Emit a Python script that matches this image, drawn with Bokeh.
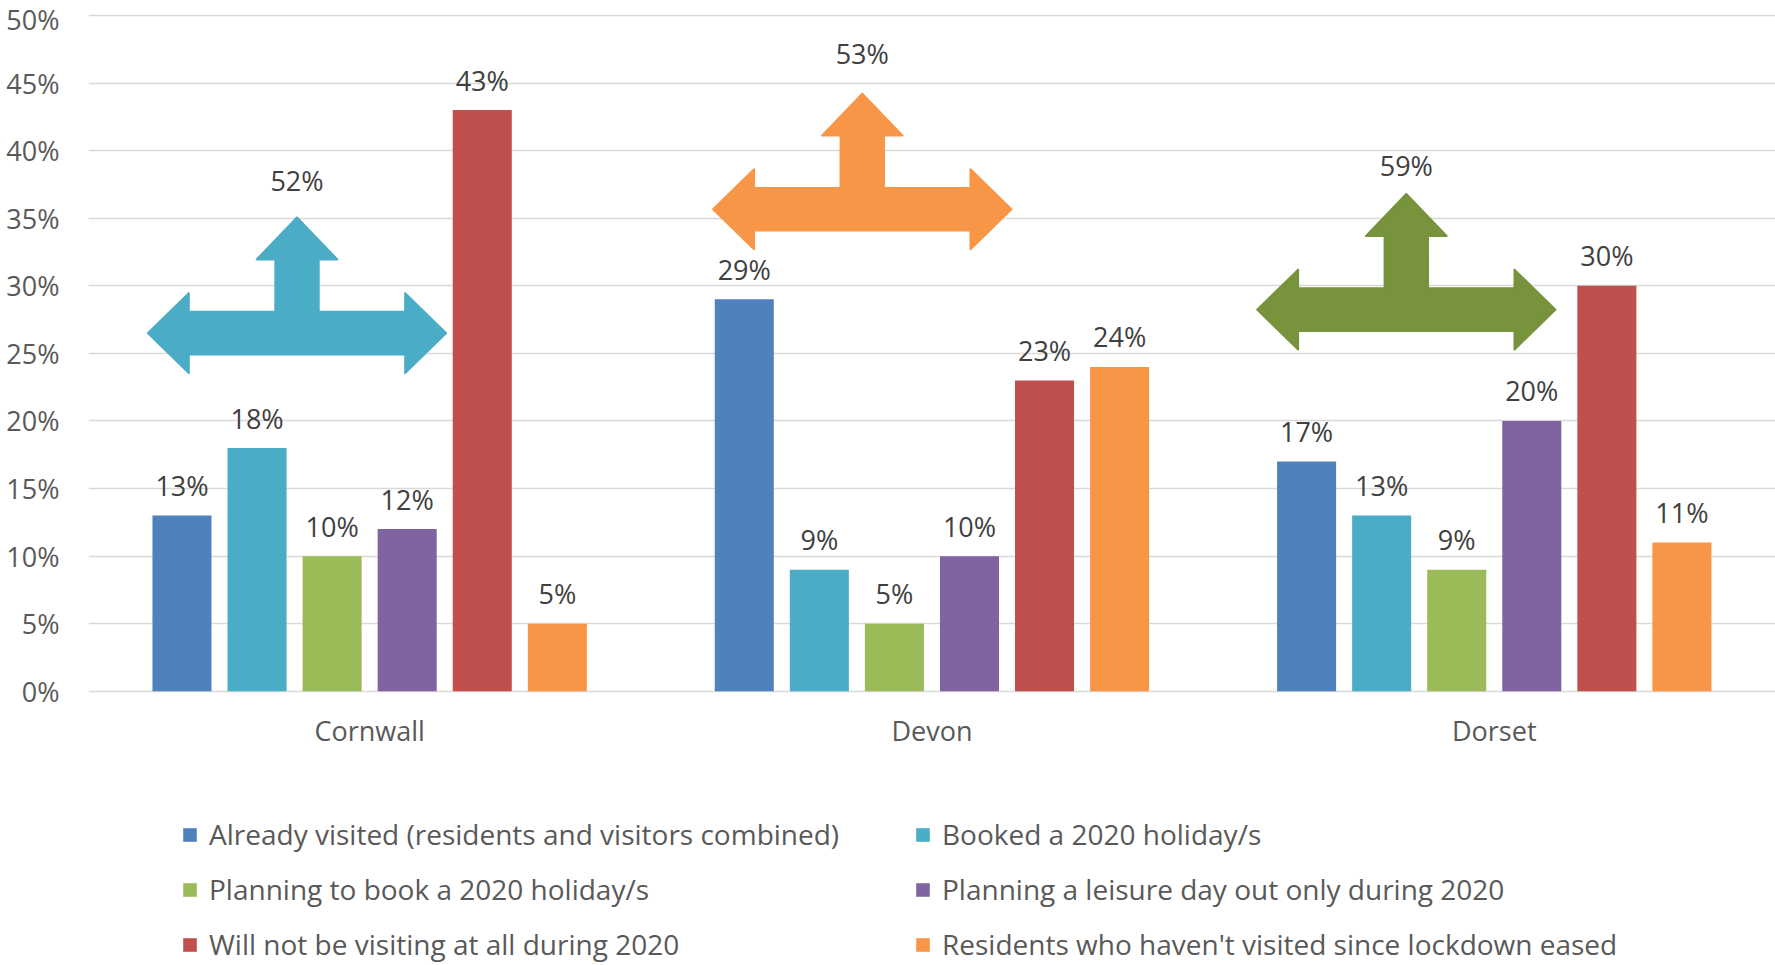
from bokeh.plotting import figure
from bokeh.models import (Range1d, FixedTicker, PrintfTickFormatter, Legend,
                          LegendItem, ColumnDataSource)
from bokeh.core.properties import value
from bokeh.embed import file_html
from bokeh.resources import INLINE

# ---------------- data ----------------
categories = ["Cornwall", "Devon", "Dorset"]
series_names = [
    "Already visited (residents and visitors combined)",
    "Booked a 2020 holiday/s",
    "Planning to book a 2020 holiday/s",
    "Planning a leisure day out only during 2020",
    "Will not be visiting at all during 2020",
    "Residents who haven't visited since lockdown eased",
]
already_visited = [13, 29, 17]
booked_holiday = [18, 9, 13]
planning_to_book = [10, 5, 9]
planning_day_out = [12, 10, 20]
not_visiting = [43, 23, 30]
residents_not_visited = [5, 24, 11]
combined_total = [52, 53, 59]          # values shown on the arrows
y_ticks = [0, 5, 10, 15, 20, 25, 30, 35, 40, 45, 50]

series_values = [already_visited, booked_holiday, planning_to_book,
                 planning_day_out, not_visiting, residents_not_visited]

# ---------------- styles / layout ----------------
bar_colors = ["#4F81BD", "#4BACC6", "#9BBB59", "#8064A2", "#C0504D", "#F79646"]
arrow_colors = ["#4BACC6", "#F79646", "#77933C"]
arrow_dx = [-0.1292, -0.1239, -0.1564]     # arrow centre offset from category centre
arrow_cy = [26.5, 35.66, 28.24]             # arrow horizontal-bar centre (in %)
arrow_label_dy = [1.84, 2.08, 1.25]         # label baseline above arrow tip (in %)
step = 0.1335
bar_w = 0.105
FONT = value("Open Sans")

W, H = 1775, 963
LEFT, TOP = 88, 13
px_per_unit = 562.3
px_per_pct = 13.516
x_end = (W - LEFT) / px_per_unit
y_end = 50 + 2 / px_per_pct
y_start = y_end - (H - TOP) / px_per_pct

p = figure(width=W, height=H, output_backend="svg", toolbar_location=None,
           x_range=Range1d(0, x_end), y_range=Range1d(y_start, y_end),
           min_border_left=LEFT, min_border_right=0, min_border_top=TOP,
           min_border_bottom=0, x_axis_location=None)
p.outline_line_color = None
p.background_fill_color = "white"
p.border_fill_color = "white"

# grid / axes
p.xgrid.grid_line_color = None
p.ygrid.grid_line_color = "#D9D9D9"
p.ygrid.grid_line_width = 1.5
p.yaxis.ticker = FixedTicker(ticks=y_ticks)
p.ygrid.ticker = FixedTicker(ticks=y_ticks)
p.yaxis.formatter = PrintfTickFormatter(format="%d%%")
p.yaxis.axis_line_color = None
p.yaxis.major_tick_line_color = None
p.yaxis.minor_tick_line_color = None
p.yaxis.major_label_standoff = 23
p.yaxis.major_label_text_font = "Open Sans"
p.yaxis.major_label_text_font_size = "27px"
p.yaxis.major_label_text_color = "#595959"

cat_pos = [i + 0.5 for i in range(len(categories))]

# category labels under the 0 line
p.text(x=cat_pos, y=[0] * len(categories), text=categories, text_align="center",
       text_baseline="alphabetic", y_offset=39, text_font=FONT,
       text_font_size="27px", text_color="#595959")

# bars
renderers = []
for i, vals in enumerate(series_values):
    xs = [c + (i - 2.5) * step for c in cat_pos]
    src = ColumnDataSource(dict(x=xs, top=vals, lab=[f"{v}%" for v in vals]))
    r = p.vbar(x="x", top="top", bottom=0, width=bar_w, source=src,
               fill_color=bar_colors[i], line_color=None)
    renderers.append(r)
    p.text(x="x", y="top", text="lab", source=src, text_align="center",
           text_baseline="alphabetic", y_offset=-30, text_font=FONT,
           text_font_size="27px", text_color="#404040")

# arrows (T-shaped double arrows)
L, HL, UW, UHW = 0.2653, 0.0729, 0.0386, 0.0717
HH, ST, UT, UHL = 2.96, 1.576, 8.56, 3.107
xs_all, ys_all = [], []
lab_x, lab_y, lab_t = [], [], []
for k, c in enumerate(cat_pos):
    cx = c + arrow_dx[k]
    cy = arrow_cy[k]
    tip = cy + UT
    pts = [
        (cx - L, cy), (cx - L + HL, cy + HH), (cx - L + HL, cy + ST),
        (cx - UW, cy + ST), (cx - UW, tip - UHL), (cx - UHW, tip - UHL),
        (cx, tip), (cx + UHW, tip - UHL), (cx + UW, tip - UHL),
        (cx + UW, cy + ST), (cx + L - HL, cy + ST), (cx + L - HL, cy + HH),
        (cx + L, cy), (cx + L - HL, cy - HH), (cx + L - HL, cy - ST),
        (cx - L + HL, cy - ST), (cx - L + HL, cy - HH),
    ]
    xs_all.append([q[0] for q in pts])
    ys_all.append([q[1] for q in pts])
    lab_x.append(cx)
    lab_y.append(tip + arrow_label_dy[k])
    lab_t.append(f"{combined_total[k]}%")

p.patches(xs=xs_all, ys=ys_all, fill_color=arrow_colors, line_color=arrow_colors,
          line_width=2, line_join="round")
p.text(x=lab_x, y=lab_y, text=lab_t, text_align="center", text_baseline="alphabetic",
       y_offset=-12, text_font=FONT, text_font_size="27px", text_color="#404040")

# legends (two columns)
def make_legend(idx, loc):
    leg = Legend(items=[LegendItem(label=series_names[i], renderers=[renderers[i]])
                        for i in idx],
                 location=loc, orientation="vertical")
    leg.glyph_width = 17
    leg.glyph_height = 17
    leg.label_standoff = 11
    leg.label_height = 30
    leg.spacing = 17
    leg.padding = 0
    leg.margin = 0
    leg.border_line_color = None
    leg.background_fill_alpha = 0
    leg.label_text_font = "Open Sans"
    leg.label_text_font_size = "28px"
    leg.label_text_color = "#595959"
    return leg

p.add_layout(make_legend([0, 2, 4], (93, 0)))
p.add_layout(make_legend([1, 3, 5], (826, 0)))

open("out.html", "w").write(file_html(p, INLINE))
